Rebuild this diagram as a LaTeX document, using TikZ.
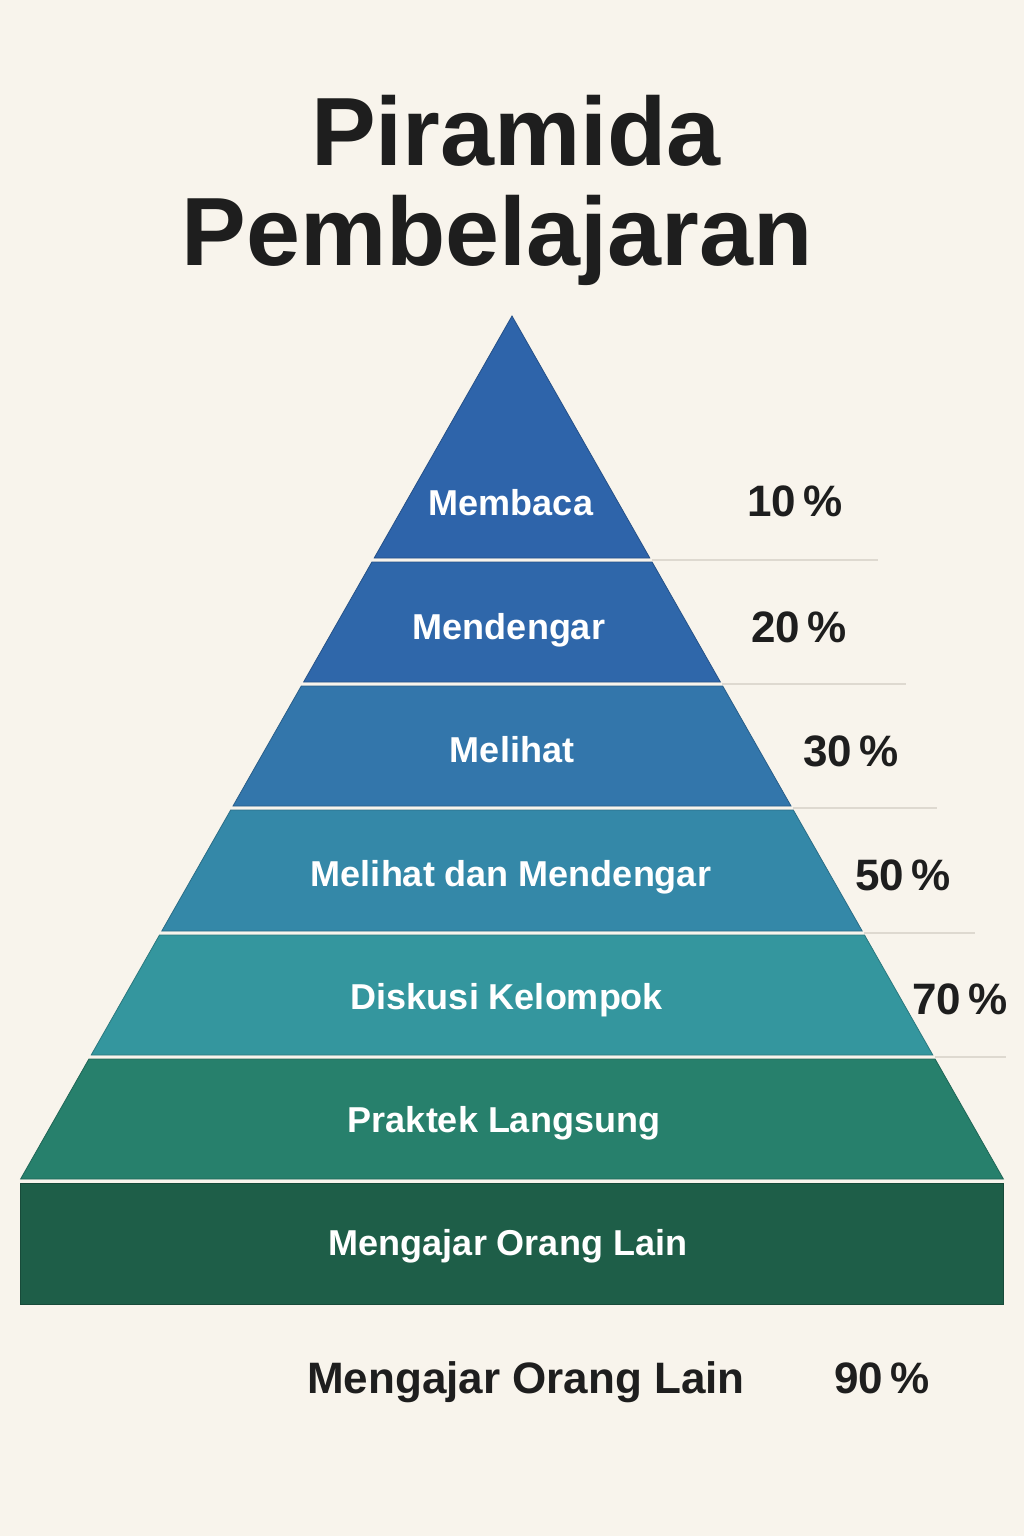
\documentclass[tikz,border=0pt]{standalone}
\usepackage{fontspec}
\setmainfont{Liberation Sans}
\usepackage{tikz}
\usetikzlibrary{positioning,calc}
\usepackage{xcolor}
\definecolor{pybg}{RGB}{248,244,236}
\definecolor{pyink}{RGB}{30,30,30}
\definecolor{pyguide}{RGB}{222,217,208}
\definecolor{pyblueA}{RGB}{46,100,170}
\definecolor{pyblueB}{RGB}{47,103,170}
\definecolor{pyblueC}{RGB}{51,118,171}
\definecolor{pyblueD}{RGB}{52,136,168}
\definecolor{pyteal}{RGB}{52,150,158}
\definecolor{pygreen}{RGB}{39,128,108}
\definecolor{pydark}{RGB}{30,94,72}
\tikzset{band/.style={fill=#1, draw=#1!80!black, line width=0.8pt}}
\tikzstyle{bandlabel} = [text=white, anchor=base, inner sep=0pt, font=\fontsize{36}{40}\selectfont\bfseries]
\tikzstyle{pctlabel} = [text=pyink, anchor=base, inner sep=0pt, font=\fontsize{44}{48}\selectfont\bfseries]
\tikzstyle{guide} = [line width=2pt, color=pyguide]

\begin{document}
\begin{tikzpicture}[x=1pt,y=-1pt]
\fill[pybg] (0,0) rectangle (1024,1536);
\useasboundingbox (0,0) rectangle (1024,1536);

% title
\node[anchor=base, inner sep=0pt, text=pyink, font=\fontsize{97}{100}\selectfont\bfseries] (title1) at (516,165) {Piramida};
\node[anchor=base, inner sep=0pt, text=pyink, font=\fontsize{97}{100}\selectfont\bfseries] (title2) at (497,265) {Pembelajaran};

% bands of the pyramid
\draw[band=pyblueA] (512,316) -- (649.8,558) -- (374.2,558) -- cycle;
\draw[band=pyblueB] (371.9,562) -- (652.1,562) -- (720.4,682) -- (303.6,682) -- cycle;
\draw[band=pyblueC] (301.3,686) -- (722.7,686) -- (791.0,806) -- (233.0,806) -- cycle;
\draw[band=pyblueD] (230.7,810) -- (793.3,810) -- (862.2,931) -- (161.8,931) -- cycle;
\draw[band=pyteal] (159.5,935) -- (864.5,935) -- (932.8,1055) -- (91.2,1055) -- cycle;
\draw[band=pygreen] (88.9,1059) -- (935.1,1059) -- (1003.4,1179) -- (20.6,1179) -- cycle;
\draw[band=pydark] (20,1183) rectangle (1003,1304);

% guide lines to the right
\coordinate (g1) at (652,560);   \coordinate (e1) at (878,560);
\coordinate (g2) at (722,684);   \coordinate (e2) at (906,684);
\coordinate (g3) at (793,808);   \coordinate (e3) at (937,808);
\coordinate (g4) at (864,933);   \coordinate (e4) at (975,933);
\coordinate (g5) at (935,1057);  \coordinate (e5) at (1006,1057);
\draw[guide] (g1) -- (e1);
\draw[guide] (g2) -- (e2);
\draw[guide] (g3) -- (e3);
\draw[guide] (g4) -- (e4);
\draw[guide] (g5) -- (e5);

% band labels
\node[bandlabel] (membaca) at (511,515) {Membaca};
\node[bandlabel] (mendengar) at (509,639) {Mendengar};
\node[bandlabel] (melihat) at (512,762) {Melihat};
\node[bandlabel] (melihatdengar) at (511,886) {Melihat dan Mendengar};
\node[bandlabel] (diskusi) at (507,1009) {Diskusi Kelompok};
\node[bandlabel] (praktek) at (504,1132) {Praktek Langsung};
\node[bandlabel] (mengajar) at (508,1255) {Mengajar Orang Lain};

% percentages
\node[pctlabel] (p10) at (795,516) {10\,\%};
\node[pctlabel] (p20) at (799,642) {20\,\%};
\node[pctlabel] (p30) at (851,766) {30\,\%};
\node[pctlabel] (p50) at (903,890) {50\,\%};
\node[pctlabel] (p70) at (960,1014) {70\,\%};

% bottom line
\node[pctlabel] (mengajarlbl) at (526,1393) {Mengajar Orang Lain};
\node[pctlabel] (p90) at (882,1393) {90\,\%};
\end{tikzpicture}
\end{document}
